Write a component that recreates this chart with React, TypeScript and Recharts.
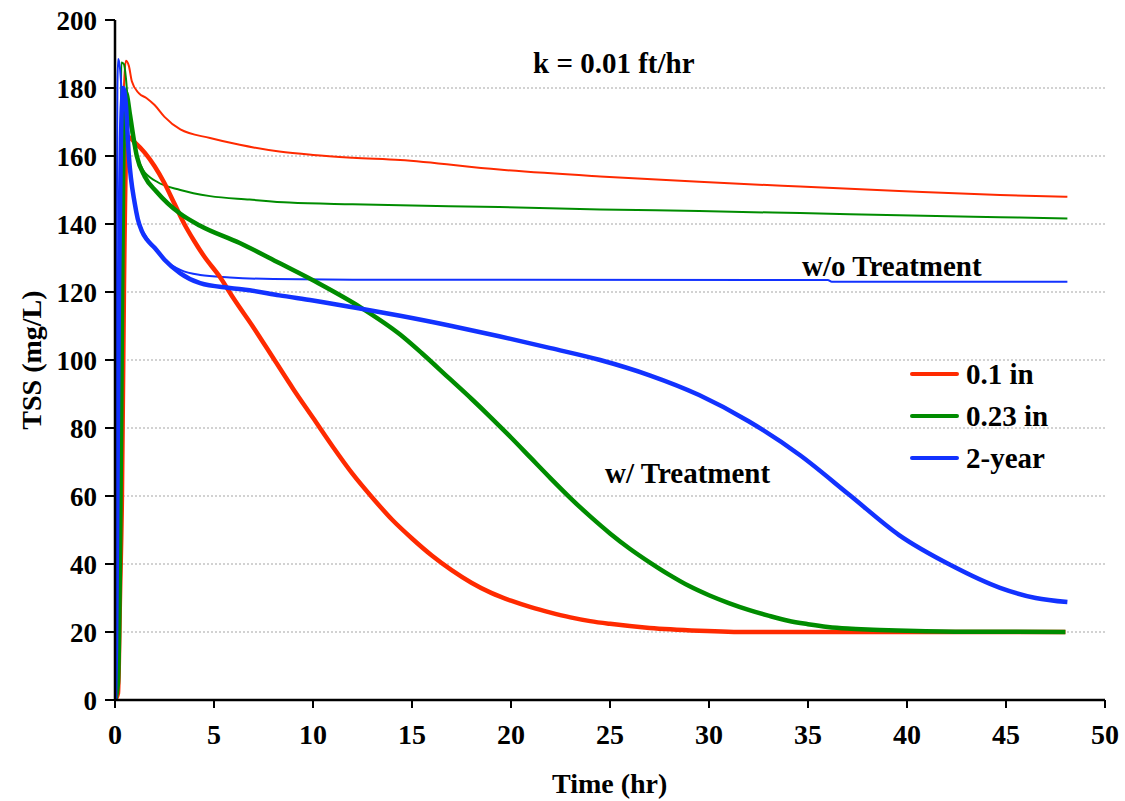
import React from 'react'
import {
  LineChart, Line, XAxis, YAxis, ReferenceLine
} from 'recharts'

// TSS over time, k = 0.01 ft/hr — points as [hr, mg/L]
const red01Treated: [number, number][] = [
  [0, 0], [0.15, 2], [0.25, 30], [0.35, 60], [0.45, 120], [0.55, 158], [0.7, 165.5],
  [1.0, 164], [1.5, 161], [2.0, 157], [2.5, 152], [3.0, 146], [3.5, 140], [4.0, 135],
  [4.5, 130.5], [5.3, 124.4], [6, 118], [7, 109.5], [8, 100.5], [9, 91.5], [10, 83],
  [11, 74.5], [12, 66.5], [13, 59.5], [14, 53], [15, 47.5], [16, 42.5], [17, 38.2],
  [18, 34.5], [19, 31.5], [20, 29.2], [21, 27.3], [22, 25.7], [23, 24.3], [24, 23.2],
  [25, 22.4], [27, 21.2], [29.5, 20.4], [32, 20], [48, 20]
]
const green023Treated: [number, number][] = [
  [0, 0], [0.15, 5], [0.25, 40], [0.35, 110], [0.42, 160], [0.5, 179], [0.6, 178],
  [0.76, 172], [1.1, 160], [1.5, 154], [2.1, 149.5], [3.3, 143], [4.3, 139.5],
  [6.3, 134.4], [8.3, 128.5], [10.3, 122.5], [12.4, 115.5], [14.4, 107.5],
  [15.5, 102], [16.9, 94.5], [18, 88.6], [19, 83], [20, 77.2], [21, 71.2], [22, 65.2],
  [23, 59.4], [24, 54], [25, 49], [26, 44.5], [27, 40.5], [28, 36.8], [29, 33.5],
  [30, 30.8], [31, 28.5], [32, 26.5], [33, 24.8], [34, 23.3], [35, 22.3], [36, 21.5],
  [37, 21], [38, 20.7], [40, 20.4], [43, 20.1], [48, 20]
]
const blue2yrTreated: [number, number][] = [
  [0, 0], [0.05, 15], [0.12, 60], [0.2, 120], [0.3, 165], [0.42, 180], [0.55, 175],
  [0.7, 160], [1.0, 146], [1.15, 141.5], [1.35, 138], [1.6, 135.5], [2.0, 133],
  [2.5, 129.5], [3.3, 125.5], [4.3, 122.6], [5.8, 121.2], [6.8, 120.5], [8.3, 119],
  [10, 117.5], [12, 115.5], [14.4, 113], [17, 110], [19.4, 107], [22, 103.5],
  [24.5, 100], [27, 95.5], [29.5, 89.7], [32, 82], [34.6, 72], [37.1, 60.3],
  [39.6, 48.5], [42.2, 39.7], [44.7, 33], [46.5, 30], [48.1, 28.8]
]
const red01Untreated: [number, number][] = [
  [0, 0], [0.15, 2], [0.25, 40], [0.35, 120], [0.45, 180], [0.55, 188], [0.7, 186.5],
  [0.85, 182], [1.2, 178.5], [1.6, 177], [2, 175], [2.5, 171.5], [3.3, 167.8],
  [4.8, 165.3], [6.3, 163.3], [8.3, 161.3], [10, 160.3], [12, 159.5], [14.4, 158.8],
  [19.4, 156], [24.5, 154], [29.5, 152.4], [34.6, 151], [39.6, 149.7], [44.7, 148.5],
  [48.1, 148]
]
const green023Untreated: [number, number][] = [
  [0, 0], [0.12, 10], [0.2, 60], [0.27, 150], [0.32, 187.5], [0.45, 187], [0.55, 183],
  [0.7, 172], [0.9, 164.7], [1.4, 156], [2.1, 152.5], [3.3, 150], [4.8, 148.2],
  [6.8, 147.2], [8.8, 146.3], [12, 145.8], [14.4, 145.5], [19.4, 145], [24.5, 144.3],
  [29.5, 143.8], [34.6, 143.2], [39.6, 142.6], [44.7, 142], [48.1, 141.6]
]
const blue2yrUntreated: [number, number][] = [
  [0, 0], [0.04, 30], [0.08, 120], [0.12, 180], [0.16, 188.5], [0.25, 186], [0.35, 178],
  [0.5, 168], [0.7, 158], [1.0, 146.5], [1.15, 142], [1.35, 138.5], [1.6, 136],
  [2.0, 133], [2.5, 129.5], [3.3, 126.5], [4.3, 125], [5.8, 124.3], [8, 123.8],
  [12, 123.6], [20, 123.6], [36, 123.5], [36.2, 123], [48.1, 123]
]

const xTicks = [0, 5, 10, 15, 20, 25, 30, 35, 40, 45, 50]
const yTicks = [0, 20, 40, 60, 80, 100, 120, 140, 160, 180, 200]
const gridValues = [20, 40, 60, 80, 100, 120, 140, 160, 180]

const legendNames = ['0.1 in', '0.23 in', '2-year']
const RED = '#ff2a00'
const GREEN = '#008c00'
const BLUE = '#1232ff'
const legendColors = [RED, GREEN, BLUE]

const FONT = "'Liberation Serif', 'Times New Roman', serif"

const toPts = (arr: [number, number][]) => arr.map(([t, v]) => ({ t, v }))

const textStyle: React.CSSProperties = {
  position: 'absolute',
  fontFamily: FONT,
  fontWeight: 'bold',
  color: '#000',
  whiteSpace: 'nowrap',
  lineHeight: 1
}

export default function App() {
  return (
    <div style={{ position: 'absolute', left: 0, top: 0, width: 1125, height: 801, background: '#fff' }}>
      <LineChart
        width={1125}
        height={801}
        margin={{ top: 20, right: 20, bottom: 51, left: 55 }}
      >
        {gridValues.map((g) => (
          <ReferenceLine key={g} y={g} stroke="#c4c4c4" strokeWidth={1.5} strokeDasharray="2 2" />
        ))}
        <XAxis
          type="number"
          dataKey="t"
          domain={[0, 50]}
          ticks={xTicks}
          height={50}
          tickSize={8}
          tickMargin={16}
          axisLine={{ stroke: '#000', strokeWidth: 2.5 }}
          tickLine={{ stroke: '#000', strokeWidth: 2 }}
          tick={{ fill: '#000', fontSize: 28, fontFamily: FONT, fontWeight: 'bold' }}
          allowDataOverflow
        />
        <YAxis
          type="number"
          domain={[0, 200]}
          ticks={yTicks}
          width={60}
          tickSize={10}
          tickMargin={8}
          axisLine={{ stroke: '#000', strokeWidth: 2.5 }}
          tickLine={{ stroke: '#000', strokeWidth: 2 }}
          tick={{ fill: '#000', fontSize: 27, fontFamily: FONT, fontWeight: 'bold' }}
          allowDataOverflow
        />
        <Line data={toPts(red01Untreated)} dataKey="v" name="0.1 in w/o" type="monotone"
          stroke={RED} strokeWidth={2} dot={false} isAnimationActive={false} />
        <Line data={toPts(green023Untreated)} dataKey="v" name="0.23 in w/o" type="monotone"
          stroke={GREEN} strokeWidth={2} dot={false} isAnimationActive={false} />
        <Line data={toPts(blue2yrUntreated)} dataKey="v" name="2-year w/o" type="monotone"
          stroke={BLUE} strokeWidth={2} dot={false} isAnimationActive={false} />
        <Line data={toPts(red01Treated)} dataKey="v" name="0.1 in" type="monotone"
          stroke={RED} strokeWidth={4.5} dot={false} isAnimationActive={false} />
        <Line data={toPts(green023Treated)} dataKey="v" name="0.23 in" type="monotone"
          stroke={GREEN} strokeWidth={4.5} dot={false} isAnimationActive={false} />
        <Line data={toPts(blue2yrTreated)} dataKey="v" name="2-year" type="monotone"
          stroke={BLUE} strokeWidth={4.5} dot={false} isAnimationActive={false} />
      </LineChart>

      <div style={{ position: 'absolute', left: 910, top: 353, fontFamily: FONT, fontWeight: 'bold', fontSize: 29 }}>
        {legendNames.map((name, i) => (
          <div key={name} style={{ display: 'flex', alignItems: 'center', height: 42 }}>
            <span style={{
              display: 'inline-block', width: 49, height: 4, borderRadius: 2,
              background: legendColors[i], marginRight: 7
            }} />
            <span>{name}</span>
          </div>
        ))}
      </div>

      <div style={{ ...textStyle, fontSize: 29, left: 533, top: 49 }}>k = 0.01 ft/hr</div>
      <div style={{ ...textStyle, fontSize: 29, left: 802, top: 252 }}>w/o Treatment</div>
      <div style={{ ...textStyle, fontSize: 29, left: 605, top: 459 }}>w/ Treatment</div>
      <div style={{ ...textStyle, fontSize: 28, left: 552, top: 770 }}>Time (hr)</div>
      <div style={{
        ...textStyle, fontSize: 28, left: 32, top: 360,
        transform: 'translate(-50%, -50%) rotate(-90deg)'
      }}>TSS (mg/L)</div>
    </div>
  )
}
